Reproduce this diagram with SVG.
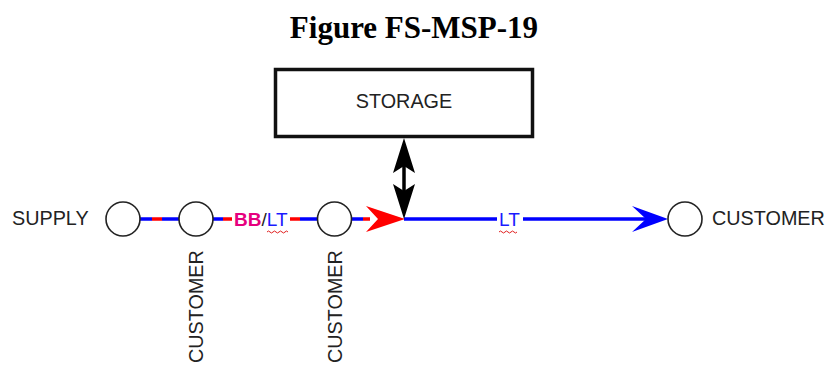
<svg xmlns="http://www.w3.org/2000/svg" width="828" height="367" viewBox="0 0 828 367">
<style>
.lbl{font-family:"Liberation Sans",Arial,sans-serif;font-size:19.8px;fill:#222}
.node{fill:#fff;stroke:#222;stroke-width:1.6}
.blue{stroke:#0000ff;stroke-width:3.5;fill:none}
.red{stroke:#ff0000;stroke-width:3.5;fill:none}
</style>
<rect width="828" height="367" fill="#fff"/>
<text x="414" y="38" text-anchor="middle" font-family="'Liberation Serif','Times New Roman',serif" font-weight="bold" font-size="31" fill="#000">Figure FS-MSP-19</text>
<g id="connectors">
<path class="blue" d="M140 219H152M162 219H179M213 219H223M300 219H317M352 219H363"/>
<path class="red" d="M152 219H162M223 219H232M290 219H300M363 219H370"/>
<polygon points="366,206 405,219 366,232 378,219" fill="#ff0000"/>
<path class="blue" d="M404 219H497M523 219H652"/>
<polygon points="632,206 668,219 632,232 646,219" fill="#0000ff"/>
<line x1="404" y1="150" x2="404" y2="205" stroke="#000" stroke-width="3.5"/>
<polygon points="404,138 415,173 404,166 393,173" fill="#000"/>
<polygon points="404,219 393,184 404,191 415,184" fill="#000"/>
<g id="label-bblt">
<text x="234" y="226" font-family="'Liberation Sans',Arial,sans-serif" font-size="19"><tspan font-weight="bold" fill="#e6007e">BB</tspan><tspan fill="#222">/</tspan><tspan fill="#1a1aff">LT</tspan></text>
<path d="M267 232q1.5-2 3 0t3 0 3 0 3 0 3 0 3 0 3 0" stroke="#e02020" stroke-width="1" fill="none"/>
</g>
<g id="label-lt">
<text x="499" y="226" font-family="'Liberation Sans',Arial,sans-serif" font-size="19" fill="#1a1aff">LT</text>
<path d="M499 232q1.5-2 3 0t3 0 3 0 3 0 3 0 3 0" stroke="#e02020" stroke-width="1" fill="none"/>
</g>
</g>
<g id="storage">
<rect x="275.5" y="69.5" width="257" height="67" fill="#fff" stroke="#111" stroke-width="3.5"/>
<text class="lbl" x="404" y="108" text-anchor="middle">STORAGE</text>
</g>
<g id="supply">
<circle class="node" cx="123" cy="219" r="17"/>
<text class="lbl" x="12" y="225">SUPPLY</text>
</g>
<g id="customer1">
<circle class="node" cx="196" cy="219" r="17"/>
<text class="lbl" transform="translate(203,363) rotate(-90)">CUSTOMER</text>
</g>
<g id="customer2">
<circle class="node" cx="334.5" cy="219" r="17"/>
<text class="lbl" transform="translate(341.5,363) rotate(-90)">CUSTOMER</text>
</g>
<g id="customer3">
<circle class="node" cx="685" cy="219" r="17"/>
<text class="lbl" x="712" y="225">CUSTOMER</text>
</g>
</svg>
